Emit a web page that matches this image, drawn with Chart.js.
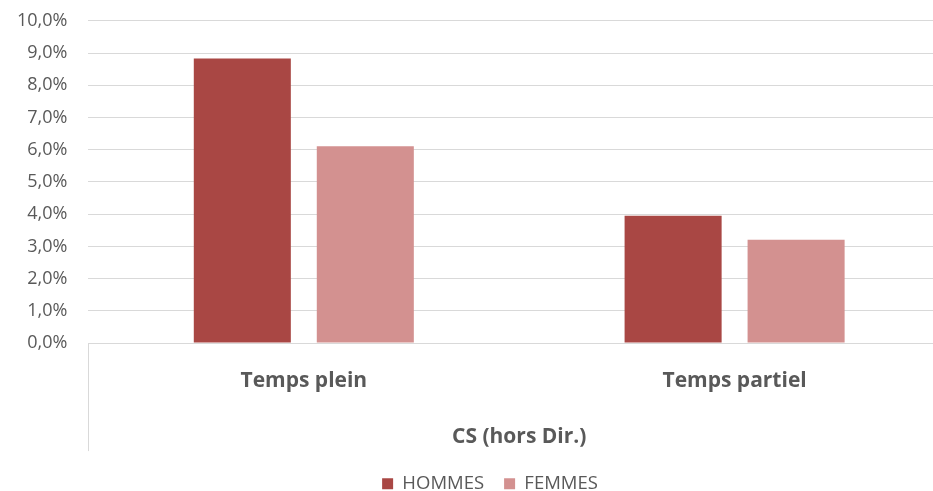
<!DOCTYPE html>
<html>
<head>
<meta charset="utf-8">
<script src="https://cdn.jsdelivr.net/npm/chart.js@4/dist/chart.umd.min.js"></script>
<style>
  html, body { margin: 0; padding: 0; background: #fff; overflow: hidden; }
  #wrap { width: 950px; height: 502px; margin-top: -11px; position: relative; }
</style>
</head>
<body>
<div id="wrap"><canvas id="c"></canvas></div>
<script>
// Taux par catégorie de temps de travail, CS (hors Dir.)
const categories = ['Temps plein', 'Temps partiel'];
const groupLabel = 'CS (hors Dir.)';
const seriesNames = ['HOMMES', 'FEMMES'];
const hommes = [8.83, 3.95];
const femmes = [6.11, 3.21];
const yTicks = [0, 1, 2, 3, 4, 5, 6, 7, 8, 9, 10];

const FONT = '"Open Sans", sans-serif';
const TEXT = '#595959';

// Trait vertical à gauche de l'axe des catégories
const categoryDivider = {
  id: 'categoryDivider',
  afterDraw(chart) {
    const { ctx, chartArea } = chart;
    const x = Math.round(chartArea.left) + 0.5;
    ctx.save();
    ctx.strokeStyle = '#d9d9d9';
    ctx.lineWidth = 1;
    ctx.beginPath();
    ctx.moveTo(x, chartArea.bottom);
    ctx.lineTo(x, chartArea.bottom + 108);
    ctx.stroke();
    ctx.restore();
  }
};

// Décale la légende vers la droite
const legendShift = {
  id: 'legendShift',
  afterLayout(chart) {
    const lg = chart.legend;
    if (lg) { lg.left += 17; lg.right += 17; }
  }
};

new Chart(document.getElementById('c'), {
  type: 'bar',
  data: {
    labels: categories,
    datasets: [
      { label: seriesNames[0], data: hommes, backgroundColor: '#a94744',
        categoryPercentage: 0.571, barPercentage: 0.789 },
      { label: seriesNames[1], data: femmes, backgroundColor: '#d39190',
        categoryPercentage: 0.571, barPercentage: 0.789 }
    ]
  },
  options: {
    responsive: true,
    maintainAspectRatio: false,
    animation: false,
    layout: { padding: { top: 0, left: -4, right: 0, bottom: -12 } },
    plugins: {
      legend: {
        position: 'bottom',
        labels: {
          boxWidth: 11, boxHeight: 11, padding: 20,
          color: TEXT, font: { family: FONT, size: 18.5 }
        }
      },
      tooltip: { enabled: false }
    },
    scales: {
      x: {
        grid: { display: false },
        border: { display: false },
        ticks: { color: TEXT, padding: 17, font: { family: FONT, size: 21, weight: 'bold' } },
        title: {
          display: true, text: groupLabel, color: TEXT,
          font: { family: FONT, size: 21, weight: 'bold' },
          padding: { top: 14, bottom: 5 }
        }
      },
      y: {
        min: 0, max: 10,
        afterBuildTicks(axis) { axis.ticks = yTicks.map(v => ({ value: v })); },
        grid: { color: '#d9d9d9', lineWidth: 1, drawTicks: false },
        border: { display: false },
        ticks: {
          color: TEXT, padding: 21,
          font: { family: FONT, size: 18 },
          callback: v => v.toFixed(1).replace('.', ',') + '%'
        }
      }
    }
  },
  plugins: [categoryDivider, legendShift]
});
</script>
</body>
</html>
